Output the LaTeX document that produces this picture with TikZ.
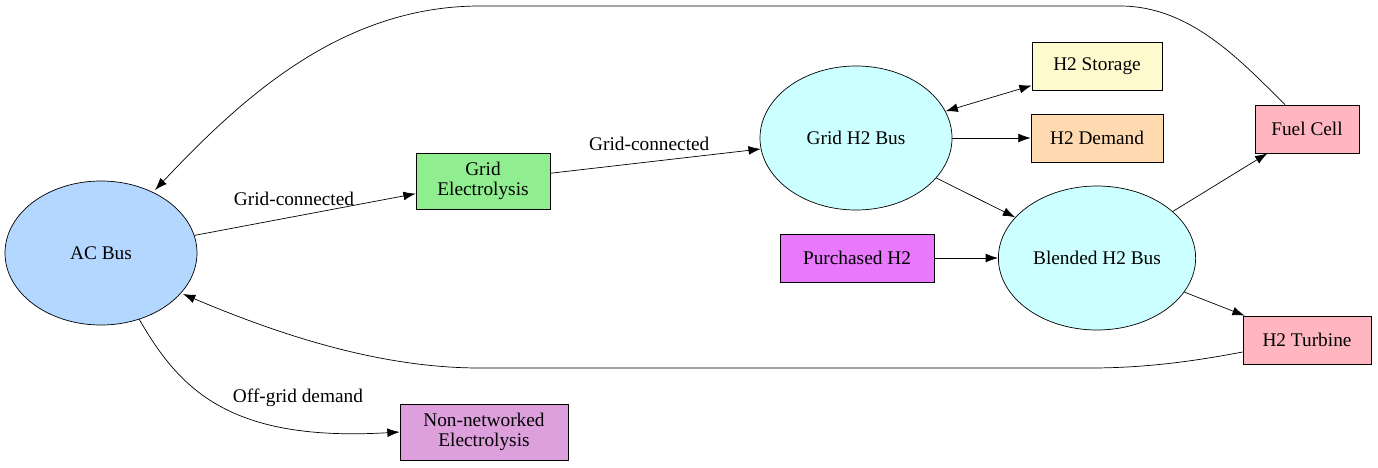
\documentclass[tikz,border=0pt]{standalone}
\usepackage{fontspec}
\setmainfont{Liberation Serif}
\usetikzlibrary{arrows.meta, shapes.geometric, positioning}
\definecolor{acblue}{HTML}{B3D7FF}
\definecolor{buscyan}{HTML}{CCFFFF}
\definecolor{elgreen}{HTML}{90EE90}
\definecolor{stoyel}{HTML}{FFFACD}
\definecolor{dempeach}{HTML}{FFDAB0}
\definecolor{fcpink}{HTML}{FFB6C1}
\definecolor{purmag}{HTML}{E878FC}
\definecolor{nnplum}{HTML}{DDA0DD}
\begin{document}
\begin{tikzpicture}[x=0.02cm, y=-0.02cm,
			font=\fontsize{11}{13}\selectfont,
			bus/.style={shape=ellipse, draw=black, minimum width=192*0.02cm, minimum height=144*0.02cm},
			unit/.style={shape=rectangle, draw=black, align=center, minimum height=48*0.02cm},
			>={Latex[length=7pt, width=5pt]},
			lbl/.style={above=5pt, inner sep=1pt}]
	\useasboundingbox (0,0) rectangle (1378,467);
	
	\node[bus, fill=acblue] at (101, 253) (ac){AC Bus};
	\node[bus, fill=buscyan] at (856, 138) (gridbus){Grid H2 Bus};
	\node[bus, fill=buscyan] at (1097, 258) (blendbus){Blended H2 Bus};
	
	\node[unit, fill=elgreen, minimum width=134*0.02cm, minimum height=56*0.02cm] at (483, 181) (gridel){Grid\\[-2pt]Electrolysis};
	\node[unit, fill=stoyel, minimum width=130*0.02cm] at (1097, 66) (storage){H2 Storage};
	\node[unit, fill=dempeach, minimum width=132*0.02cm] at (1097, 138) (demand){H2 Demand};
	\node[unit, fill=fcpink, minimum width=104*0.02cm] at (1307, 129) (fuelcell){Fuel Cell};
	\node[unit, fill=purmag, minimum width=154*0.02cm] at (857, 258) (purchased){Purchased H2};
	\node[unit, fill=fcpink, minimum width=128*0.02cm] at (1307, 340) (turbine){H2 Turbine};
	\node[unit, fill=nnplum, minimum width=168*0.02cm, minimum height=56*0.02cm] at (484, 432) (nonnet){Non-networked\\[-2pt]Electrolysis};
	
	\draw[->] (ac) -- node[lbl, pos=0.45]{Grid-connected} (gridel);
	\draw[->] (gridel) -- node[lbl, pos=0.47]{Grid-connected} (gridbus);
	\draw[<->] (gridbus) -- (storage);
	\draw[->] (gridbus) -- (demand);
	\draw[->] (gridbus) -- (blendbus);
	\draw[->] (purchased) -- (blendbus);
	\draw[->] (blendbus) -- (fuelcell);
	\draw[->] (blendbus) -- (turbine);
	
	\draw[->] (fuelcell.north) ++(-22,0) coordinate (fcout) .. controls (1240, 60) and (1190, 6) .. (1120, 6)
		-- (480, 6) .. controls (340, 6) and (240, 100) .. (155, 190);
	\draw[->] (turbine.west) ++(0,12) coordinate (tbout) .. controls (1200, 360) and (1150, 368) .. (1090, 368)
		-- (480, 368) .. controls (380, 368) and (280, 335) .. (183, 294);
	\draw[->] (ac) .. controls (180, 390) and (230, 442) .. (nonnet.west);
	\node at (298, 398) (offgrid){Off-grid demand};
\end{tikzpicture}
\end{document}
